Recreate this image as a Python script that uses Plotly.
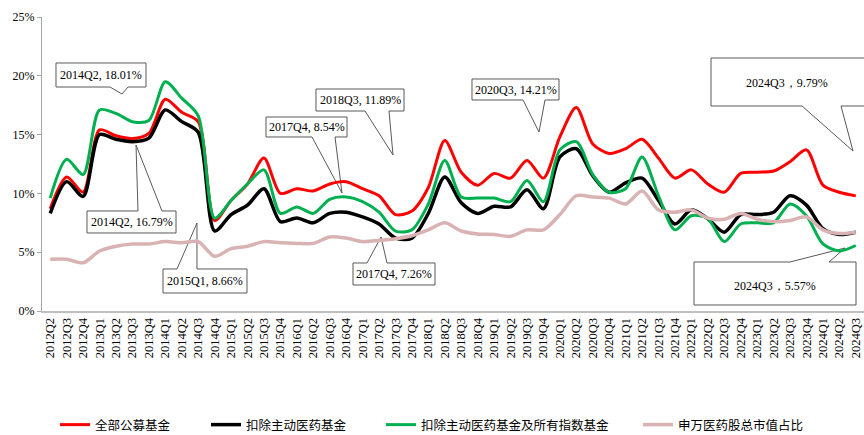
import plotly.graph_objects as go

quarters = [
    "2012Q2", "2012Q3", "2012Q4",
    "2013Q1", "2013Q2", "2013Q3", "2013Q4",
    "2014Q1", "2014Q2", "2014Q3", "2014Q4",
    "2015Q1", "2015Q2", "2015Q3", "2015Q4",
    "2016Q1", "2016Q2", "2016Q3", "2016Q4",
    "2017Q1", "2017Q2", "2017Q3", "2017Q4",
    "2018Q1", "2018Q2", "2018Q3", "2018Q4",
    "2019Q1", "2019Q2", "2019Q3", "2019Q4",
    "2020Q1", "2020Q2", "2020Q3", "2020Q4",
    "2021Q1", "2021Q2", "2021Q3", "2021Q4",
    "2022Q1", "2022Q2", "2022Q3", "2022Q4",
    "2023Q1", "2023Q2", "2023Q3", "2023Q4",
    "2024Q1", "2024Q2", "2024Q3",
]

all_funds = [8.7, 11.4, 10.1, 15.4, 14.9, 14.66, 15.1, 18.01, 16.9, 16.1, 7.7,
             9.4, 10.8, 13.0, 10.0, 10.4, 10.2, 10.8, 11.0, 10.4, 9.8, 8.2,
             8.5, 10.5, 14.5, 11.8, 10.7, 11.7, 11.3, 12.8, 11.3, 14.8, 17.3,
             14.21, 13.4, 13.8, 14.6, 13.0, 11.3, 12.0, 10.8, 10.1, 11.7, 11.8,
             11.9, 12.7, 13.7, 10.7, 10.1, 9.79]

ex_active = [8.3, 11.0, 9.75, 15.0, 14.6, 14.4, 14.7, 17.1, 16.1, 15.2, 6.8,
             8.2, 9.0, 10.4, 7.6, 7.9, 7.5, 8.3, 8.4, 8.0, 7.4, 6.2,
             6.2, 8.3, 11.4, 9.2, 8.3, 8.9, 8.85, 10.3, 8.7, 13.1, 13.8,
             11.5, 10.1, 10.9, 11.3, 9.4, 7.4, 8.6, 7.85, 6.7, 8.2, 8.2,
             8.4, 9.8, 9.0, 7.0, 6.5, 6.7]

ex_active_index = [9.6, 12.9, 11.6, 17.1, 16.8, 16.1, 16.2, 19.5, 18.1, 16.6, 7.9,
                   9.4, 10.8, 12.0, 8.3, 8.85, 8.3, 9.5, 9.7, 9.3, 8.4, 6.8,
                   6.9, 9.1, 12.8, 9.7, 9.6, 9.6, 9.3, 11.1, 9.3, 13.7, 14.4,
                   11.6, 10.1, 10.4, 13.1, 9.8, 6.9, 8.1, 7.85, 5.9, 7.4, 7.5,
                   7.5, 9.1, 8.1, 5.7, 5.1, 5.57]

sw_pharma_share = [4.4, 4.4, 4.1, 5.1, 5.5, 5.7, 5.7, 5.9, 5.8, 5.9, 4.65,
                   5.3, 5.5, 5.9, 5.8, 5.75, 5.75, 6.3, 6.2, 5.9, 6.0, 6.15,
                   6.4, 6.9, 7.5, 6.8, 6.55, 6.5, 6.35, 6.9, 6.9, 8.2, 9.8,
                   9.7, 9.6, 9.1, 10.2, 8.6, 8.4, 8.6, 7.9, 7.8, 8.3, 7.8,
                   7.6, 7.7, 8.0, 6.9, 6.6, 6.7]

series_names = ["全部公募基金", "扣除主动医药基金", "扣除主动医药基金及所有指数基金", "申万医药股总市值占比"]
y_ticks = [0, 5, 10, 15, 20, 25]

# ---- layout geometry (pixels) ----
W, H = 864, 435
L, R, T, B = 42, 864, 17, 311
PW, PH = R - L, B - T


def px(x):
    return (x - L) / PW


def py(y):
    return (B - y) / PH


fig = go.Figure()
styles = [
    dict(color="#FF0000", width=3),
    dict(color="#000000", width=3.5),
    dict(color="#00B050", width=3),
    dict(color="#D9B3B3", width=3.5),
]
legend_ids = ["legend", "legend2", "legend3", "legend4"]
for name, vals, st, lg in zip(series_names, [all_funds, ex_active, ex_active_index, sw_pharma_share], styles, legend_ids):
    fig.add_trace(go.Scatter(
        x=quarters, y=vals, mode="lines", name=name,
        line=dict(color=st["color"], width=st["width"], shape="spline", smoothing=0.8),
        legend=lg,
    ))

# ---- callouts (box + wedge) ----
callouts = [
    dict(text="2014Q2, 18.01%", box=(56, 63, 146, 87), side="bottom", base=(110, 128), tip=(122, 94)),
    dict(text="2014Q2, 16.79%", box=(87, 211, 176, 233), side="top", base=(138, 162), tip=(136, 145)),
    dict(text="2015Q1, 8.66%", box=(163, 269, 247, 293), side="top", base=(177, 197), tip=(197, 223)),
    dict(text="2017Q4, 8.54%", box=(266, 117, 347, 137), side="bottom", base=(312, 335), tip=(342, 193)),
    dict(text="2018Q3, 11.89%", box=(316, 89, 404, 111), side="bottom", base=(365, 389), tip=(393, 155)),
    dict(text="2017Q4, 7.26%", box=(353, 263, 435, 285), side="top", base=(367, 387), tip=(381, 237)),
    dict(text="2020Q3, 14.21%", box=(472, 79, 559, 100), side="bottom", base=(523, 545), tip=(539, 132)),
    dict(text="2024Q3，9.79%", box=(711, 58, 870, 106), side="bottom", base=(802, 841), tip=(853, 151), tx=787, ty=83),
    dict(text="2024Q3，5.57%", box=(694, 262, 856, 305), side="top", base=(790, 829), tip=(845, 248), tx=775, ty=286),
]

shapes = []
annotations = []
for c in callouts:
    x0, y0, x1, y1 = c["box"]
    b1, b2 = c["base"]
    tx_, ty_ = c["tip"]
    if c["side"] == "bottom":
        pts = [(x0, y0), (x1, y0), (x1, y1), (b2, y1), (tx_, ty_), (b1, y1), (x0, y1)]
    else:
        pts = [(x0, y0), (b1, y0), (tx_, ty_), (b2, y0), (x1, y0), (x1, y1), (x0, y1)]
    path = "M " + " L ".join(f"{px(a):.5f},{py(b):.5f}" for a, b in pts) + " Z"
    shapes.append(dict(type="path", path=path, xref="paper", yref="paper",
                       line=dict(color="#595959", width=1), fillcolor="white", layer="below"))
    cx = c.get("tx", (x0 + x1) / 2)
    cy = c.get("ty", (y0 + y1) / 2)
    annotations.append(dict(text=c["text"], x=px(cx), y=py(cy), xref="paper", yref="paper",
                            showarrow=False, xanchor="center", yanchor="middle",
                            font=dict(family="Liberation Serif", size=12, color="#000000")))

legend_font = dict(family="Noto Sans CJK SC", size=12.5, color="#000000")
leg_text_x = [95, 246, 421, 678]
leg_layout = {}
for lg, tx0 in zip(legend_ids, leg_text_x):
    leg_layout[lg] = dict(x=px(tx0 - 40), y=py(425), xanchor="left", yanchor="middle",
                          orientation="h", font=legend_font, bgcolor="rgba(0,0,0,0)",
                          borderwidth=0, tracegroupgap=0)

fig.update_layout(
    width=W, height=H,
    margin=dict(l=L, r=W - R, t=T, b=H - B, autoexpand=False),
    paper_bgcolor="white", plot_bgcolor="white",
    showlegend=True,
    shapes=shapes,
    annotations=annotations,
    xaxis=dict(
        type="category", range=[-0.5, len(quarters) - 0.5],
        tickangle=-90, showgrid=False, zeroline=False,
        showline=True, linecolor="#BFBFBF", linewidth=2,
        ticks="", tickfont=dict(family="Liberation Serif", size=12.5, color="#000000"),
        fixedrange=True, automargin=False,
    ),
    yaxis=dict(
        range=[0, 25], tickvals=y_ticks, ticktext=[f"{v}%" for v in y_ticks],
        showgrid=False, zeroline=False,
        showline=True, linecolor="#A6A6A6", linewidth=1,
        ticks="outside", ticklen=4, tickcolor="#A6A6A6",
        tickfont=dict(family="Liberation Serif", size=12, color="#000000"),
        fixedrange=True, automargin=False,
    ),
    **leg_layout,
)

fig.write_html(
    "out.html",
    config={"displayModeBar": False},
    post_script="document.body.style.margin='0';document.body.style.overflow='hidden';",
)
